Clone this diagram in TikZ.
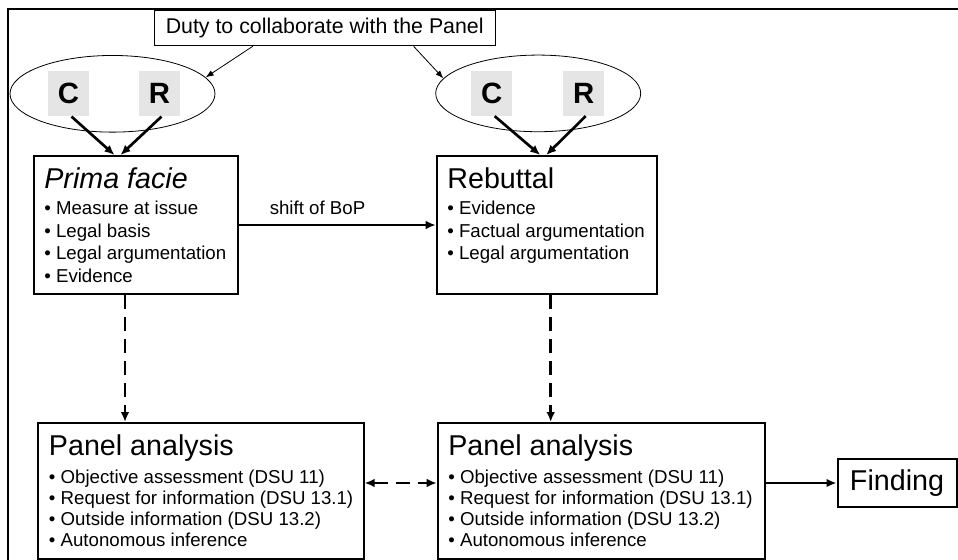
\documentclass[tikz,border=0pt]{standalone}
\usepackage{fontspec}
\setmainfont{Liberation Sans}
\usetikzlibrary{arrows.meta,shapes.geometric,calc}

\tikzset{
	stage/.style={draw, line width=1.5pt, anchor=north west, inner xsep=8pt, inner ysep=8.75pt},
	topfont/.style={font=\fontsize{14}{17}\selectfont},
	lowfont/.style={font=\fontsize{14}{15.75}\selectfont},
	party/.style={fill=gray!20, minimum width=30.75pt, minimum height=33.75pt, inner sep=0pt, font=\fontsize{22}{22}\selectfont\bfseries},
	ring/.style={draw, ellipse, line width=0.6pt, minimum width=153.75pt, minimum height=57.5pt, inner sep=0pt},
	conn/.style={->, line width=2pt},
	dconn/.style={conn, dash pattern=on 10.5pt off 6pt},
	pull/.style={-{Latex[length=6pt,width=4.5pt]}, line width=0.6pt}
}
\newcommand{\ttl}[1]{{\fontsize{21.5}{21.5}\selectfont #1}}
\newcommand{\bul}[1]{\mbox{\textbullet~#1}}

\begin{document}
\begin{tikzpicture}[x=0.75pt, y=-0.75pt, >={Latex[length=7.5pt,width=6.5pt]}]
	\useasboundingbox (0,0) rectangle (958,560);
	% frame
	\draw[line width=1.5pt] (8,560) -- (8,9) -- (958,9);
	
	\node[draw, line width=0.8pt, minimum width=255.5pt, minimum height=26.25pt, font=\fontsize{16}{16}\selectfont] (duty) at (324.7,28.2) {Duty to collaborate with the Panel};
	
	% parties
	\node[ring] (ellL) at (112.5,93.8) {};
	\node[ring] (ellR) at (538.2,93.4) {};
	\node[party] (cL) at ($(ellL)+(-44,0)$) {C};
	\node[party] (rL) at ($(ellL)+(47,0)$) {R};
	\node[party] (cR) at ($(ellR)+(-46.5,0)$) {C};
	\node[party] (rR) at ($(ellR)+(45.5,0)$) {R};
	
	% stages
	\node[stage, topfont] (pf) at (32.7,155) {\parbox[t][86pt][t]{137pt}{\ttl{\itshape Prima facie}\\[2.5pt]
		\bul{Measure at issue}\\ \bul{Legal basis}\\ \bul{Legal argumentation}\\ \bul{Evidence}}};
	\node[stage, topfont] (rb) at (435.7,155) {\parbox[t][86pt][t]{149pt}{\ttl{Rebuttal}\\[2.5pt]
		\bul{Evidence}\\ \bul{Factual argumentation}\\ \bul{Legal argumentation}}};
	\node[stage, lowfont] (pa1) at (37.3,422) {\parbox[t][84.5pt][t]{228pt}{\ttl{Panel analysis}\\[5.25pt]
		\bul{Objective assessment (DSU 11)}\\ \bul{Request for information (DSU 13.1)}\\
		\bul{Outside information (DSU 13.2)}\\ \bul{Autonomous inference}}};
	\node[stage, lowfont] (pa2) at (436.7,422) {\parbox[t][84.5pt][t]{229.5pt}{\ttl{Panel analysis}\\[5.25pt]
		\bul{Objective assessment (DSU 11)}\\ \bul{Request for information (DSU 13.1)}\\
		\bul{Outside information (DSU 13.2)}\\ \bul{Autonomous inference}}};
	\node[draw, line width=1.5pt, minimum width=89.25pt, minimum height=36pt, inner sep=0pt, font=\fontsize{21.5}{21.5}\selectfont] (fd) at (897,483) {Finding};
	
	% connectors
	\draw[pull] ($(duty.south west)+(99,0)$) -- (ellL.10);
	\draw[pull] ($(duty.south east)+(-82,0)$) -- (ellR.171);
	\draw[conn] ($(cL.south)+(3,0)$) -- ($(ellL.center |- pf.north)+(2,0)$);
	\draw[conn] ($(rL.south)+(2,0)$) -- ($(ellL.center |- pf.north)+(8,0)$);
	\draw[conn] ($(cR.south)+(3,0)$) -- ($(ellR.center |- rb.north)+(2,0)$);
	\draw[conn] ($(rR.south)+(2,0)$) -- ($(ellR.center |- rb.north)+(8,0)$);
	\draw[conn, line width=1.5pt] (pf) -- node[above=4pt, pos=0.4, font=\fontsize{14}{14}\selectfont] (bop) {shift of BoP} (rb);
	
	\coordinate (pfd) at ($(pf.south)+(-10.7,0)$);
	\coordinate (rbd) at ($(rb.south)+(4,0)$);
	\draw[dconn] (pfd) -- (pfd |- pa1.north);
	\draw[dconn] (rbd) -- (rbd |- pa2.north);
	\draw[dconn, <->] (pa1.east |- fd.west) -- (pa2.west |- fd.west);
	\draw[conn, line width=1.5pt] (pa2.east |- fd.west) -- (fd.west);
\end{tikzpicture}
\end{document}
